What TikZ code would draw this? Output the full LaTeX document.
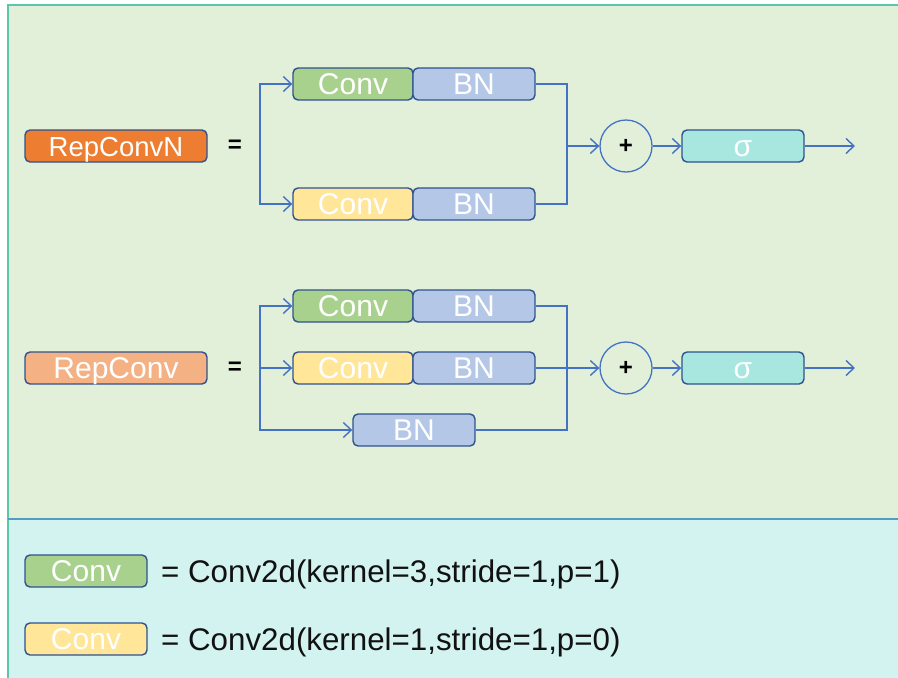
\documentclass[tikz,border=0pt]{standalone}
\usepackage{fontspec}
\setmainfont{Liberation Sans}
\usetikzlibrary{arrows.meta}
\definecolor{bggreen}{HTML}{E2F0D9}
\definecolor{bgcyan}{HTML}{D3F3F0}
\definecolor{framec}{HTML}{5CC6AA}
\definecolor{divc}{HTML}{4F9DC0}
\definecolor{boxline}{HTML}{2F528F}
\definecolor{linec}{HTML}{4472C4}
\definecolor{orangeA}{HTML}{ED7D31}
\definecolor{orangeB}{HTML}{F4B183}
\definecolor{convg}{HTML}{A9D18E}
\definecolor{convy}{HTML}{FFE699}
\definecolor{bnc}{HTML}{B4C7E7}
\definecolor{sigc}{HTML}{A8E6E0}
\definecolor{textc}{HTML}{111111}
\begin{document}
\begin{tikzpicture}[x=1pt,y=-1pt,
  box/.style={draw=boxline, line width=1.4pt, rounded corners=5pt, minimum height=32pt,
    inner sep=0pt, text=white, font=\fontsize{30}{32}\selectfont, text height=21pt, text depth=0pt},
  eqs/.style={inner sep=0pt, text=black, font=\bfseries\fontsize{24}{26}\selectfont},
  circ/.style={circle, draw=linec, line width=1.3pt, minimum size=52pt, inner sep=0pt,
    text=black, font=\bfseries\fontsize{24}{26}\selectfont},
  legtext/.style={inner sep=0pt, text=textc, font=\fontsize{31.3}{34}\selectfont, text height=22pt, text depth=0pt},
  conn/.style={draw=linec, line width=1.4pt},
  arr/.style={conn, -{Straight Barb[length=8pt,width=15pt,line width=1.4pt]}},
]
\useasboundingbox (0,0) rectangle (898,678);
\clip (0,0) rectangle (898,678);
% background panels
\fill[white] (0,0) rectangle (898,678);
\fill[bggreen] (8,5) rectangle (910,519);
\fill[bgcyan] (8,519) rectangle (910,690);
\draw[framec, line width=1.3pt] (8,690) -- (8,5) -- (910,5);
\draw[divc, line width=1.5pt] (8,519) -- (910,519);

% ---- row 1: RepConvN ----
\node[box, fill=orangeA, minimum width=182pt, font=\fontsize{27.5}{30}\selectfont] (rcn) at (116,146) {RepConvN};
\node[eqs] (eq1) at (235,146) {=};
\node[box, fill=convg, minimum width=120pt] (c1a) at (353,84) {Conv};
\node[box, fill=bnc, minimum width=122pt] (b1a) at (474,84) {BN};
\node[box, fill=convy, minimum width=120pt] (c1b) at (353,204) {Conv};
\node[box, fill=bnc, minimum width=122pt] (b1b) at (474,204) {BN};
\node[circ] (p1) at (626,146) {+};
\node[box, fill=sigc, minimum width=122pt] (s1) at (743,146) {σ};
\coordinate (sp1) at (260,146);
\coordinate (m1) at (567,146);
\coordinate (o1) at (855,146);
\draw[arr] (sp1) |- (c1a.west);
\draw[arr] (sp1) |- (c1b.west);
\draw[conn] (b1a.east) -| (m1);
\draw[conn] (b1b.east) -| (m1);
\draw[arr] (m1) -- (p1.west);
\draw[arr] (p1.east) -- (s1.west);
\draw[arr] (s1.east) -- (o1);

% ---- row 2: RepConv ----
\node[box, fill=orangeB, minimum width=182pt] (rc) at (116,368) {RepConv};
\node[eqs] (eq2) at (235,368) {=};
\node[box, fill=convg, minimum width=120pt] (c2a) at (353,306) {Conv};
\node[box, fill=bnc, minimum width=122pt] (b2a) at (474,306) {BN};
\node[box, fill=convy, minimum width=120pt] (c2b) at (353,368) {Conv};
\node[box, fill=bnc, minimum width=122pt] (b2b) at (474,368) {BN};
\node[box, fill=bnc, minimum width=122pt] (b3) at (414,430) {BN};
\node[circ] (p2) at (626,368) {+};
\node[box, fill=sigc, minimum width=122pt] (s2) at (743,368) {σ};
\coordinate (sp2) at (260,368);
\coordinate (m2) at (567,368);
\coordinate (o2) at (855,368);
\draw[arr] (sp2) |- (c2a.west);
\draw[arr] (sp2) -- (c2b.west);
\draw[arr] (sp2) |- (b3.west);
\draw[conn] (b2a.east) -| (m2 |- b3.east) -- (b3.east);
\draw[arr] (b2b.east) -- (p2.west);
\draw[arr] (p2.east) -- (s2.west);
\draw[arr] (s2.east) -- (o2);

% ---- legend ----
\node[box, fill=convg, minimum width=122pt] (lg1) at (86,571) {Conv};
\node[legtext, anchor=west] (lt1) at (161,571) {= Conv2d(kernel=3,stride=1,p=1)};
\node[box, fill=convy, minimum width=122pt] (lg2) at (86,639) {Conv};
\node[legtext, anchor=west] (lt2) at (161,639) {= Conv2d(kernel=1,stride=1,p=0)};
\end{tikzpicture}
\end{document}
